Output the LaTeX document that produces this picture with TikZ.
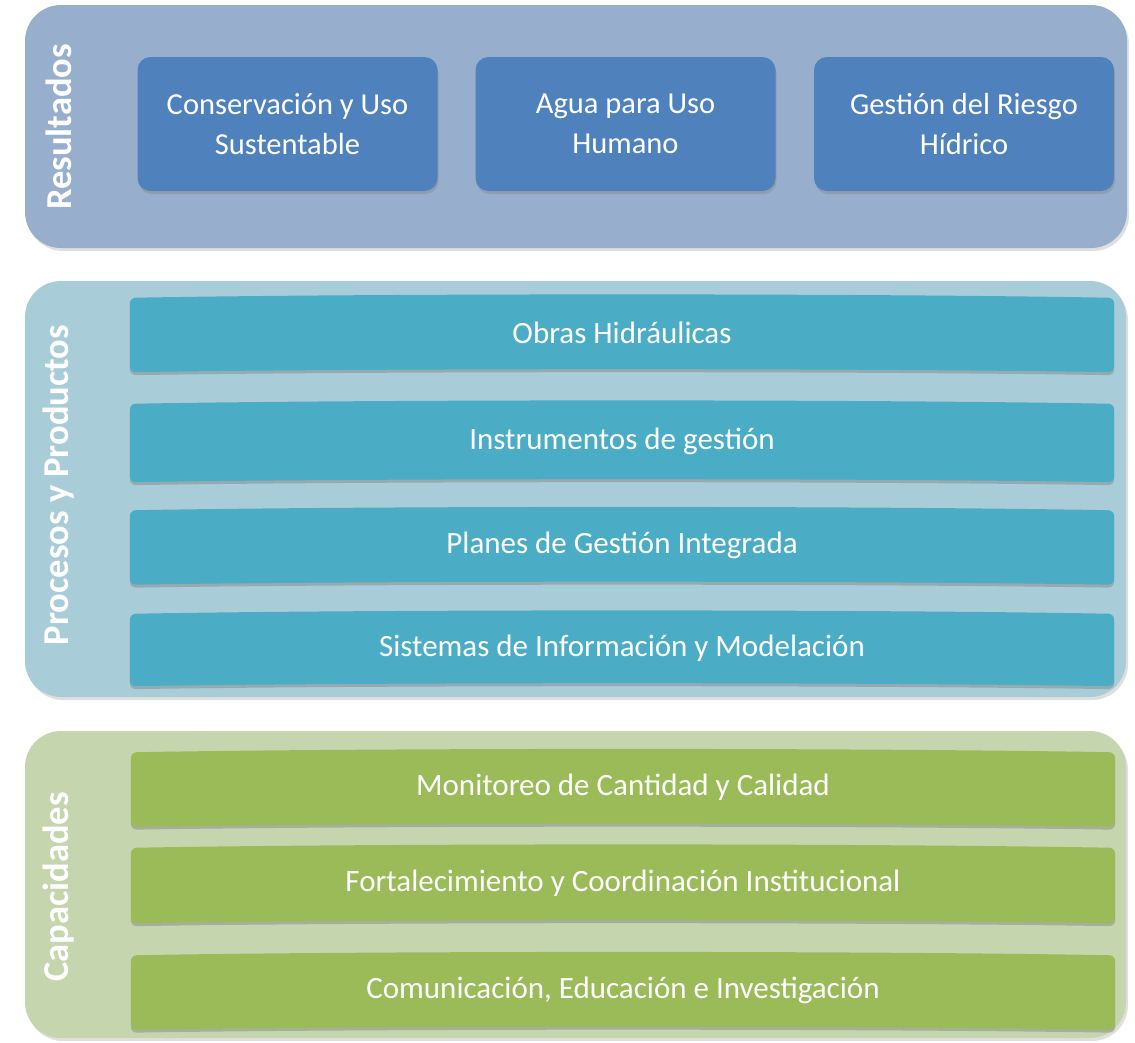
\documentclass[tikz,border=0pt]{standalone}
\usepackage{fontspec}
\setmainfont{Carlito}
\usetikzlibrary{shadows,calc,backgrounds}
\definecolor{panelA}{HTML}{97AFCC}
\definecolor{boxA}{HTML}{4F81BD}
\definecolor{panelB}{HTML}{A9CDD8}
\definecolor{barB}{HTML}{4BACC6}
\definecolor{panelC}{HTML}{C5D6AE}
\definecolor{barC}{HTML}{9BBB59}
\tikzset{
  panel/.style={rounded corners=36pt, draw=none,
    drop shadow={opacity=0.25, shadow xshift=2pt, shadow yshift=-3pt}},
  sidelabel/.style={rotate=90, text=white, font=\fontsize{36.5}{40}\selectfont\bfseries, inner sep=0pt},
  resbox/.style={fill=boxA, rounded corners=13pt, minimum width=300pt, minimum height=134pt,
    text=white, align=center, font=\fontsize{30.5}{40}\selectfont, inner sep=0pt,
    drop shadow={opacity=0.35, shadow xshift=1pt, shadow yshift=-3pt}},
  barbox/.style={minimum width=984pt, minimum height=76pt,
    text=white, font=\fontsize{31}{36}\selectfont, inner sep=0pt},
  barfill/.style={rounded corners=6pt,
    drop shadow={opacity=0.45, shadow xshift=0pt, shadow yshift=-3pt}}
}
\newcommand{\barshape}[2]{%
  \path[barfill, fill=#2]
    ($(#1.north west)+(0,3)$) .. controls ($(#1.north west)+(250,-1.5)$) and ($(#1.north east)+(-250,-1.5)$) .. ($(#1.north east)+(0,3)$)
    -- ($(#1.south east)+(0,1)$) .. controls ($(#1.south east)+(-250,-3)$) and ($(#1.south west)+(250,-3)$) .. ($(#1.south west)+(0,1)$)
    -- cycle;}
\begin{document}
\begin{tikzpicture}[x=1pt, y=-1pt]
\useasboundingbox (0,0) rectangle (1135,1042);
% side labels
\node[sidelabel] (lres) at (58.5,127) {Resultados};
\node[sidelabel] (lproc) at (58.5,485) {Procesos y Productos};
\node[sidelabel] (lcap) at (58.5,887) {Capacidades};
% process bars (text)
\node[barbox] (p1) at (622,333) {Obras Hidráulicas};
\node[barbox, minimum height=80pt] (p2) at (622,441) {Instrumentos de gestión};
\node[barbox] (p3) at (622,545.5) {Planes de Gestión Integrada};
\node[barbox, minimum height=74pt] (p4) at (622,648) {Sistemas de Información y Modelación};
% capability bars (text)
\node[barbox] (c1) at (623,787.5) {Monitoreo de Cantidad y Calidad};
\node[barbox, minimum height=77pt] (c2) at (623,883.5) {Fortalecimiento y Coordinación Institucional};
\node[barbox] (c3) at (623,990.5) {Comunicación, Educación e Investigación};
\begin{pgfonlayer}{background}
\fill[white] (0,0) rectangle (1135,1042);
% panels
\path[panel, fill=panelA] (25,5) rectangle (1127,248);
\path[panel, fill=panelB] (25,281) rectangle (1126,697);
\path[panel, fill=panelC] (25,731) rectangle (1126,1038);
% bar shapes
\barshape{p1}{barB}
\barshape{p2}{barB}
\barshape{p3}{barB}
\barshape{p4}{barB}
\barshape{c1}{barC}
\barshape{c2}{barC}
\barshape{c3}{barC}
\end{pgfonlayer}
% result boxes
\node[resbox] (r1) at (287.5,124) {Conservación y Uso\\Sustentable};
\node[resbox] (r2) at (625.5,124) {Agua para Uso\\Humano};
\node[resbox] (r3) at (964,124) {Gestión del Riesgo\\Hídrico};
\end{tikzpicture}
\end{document}
